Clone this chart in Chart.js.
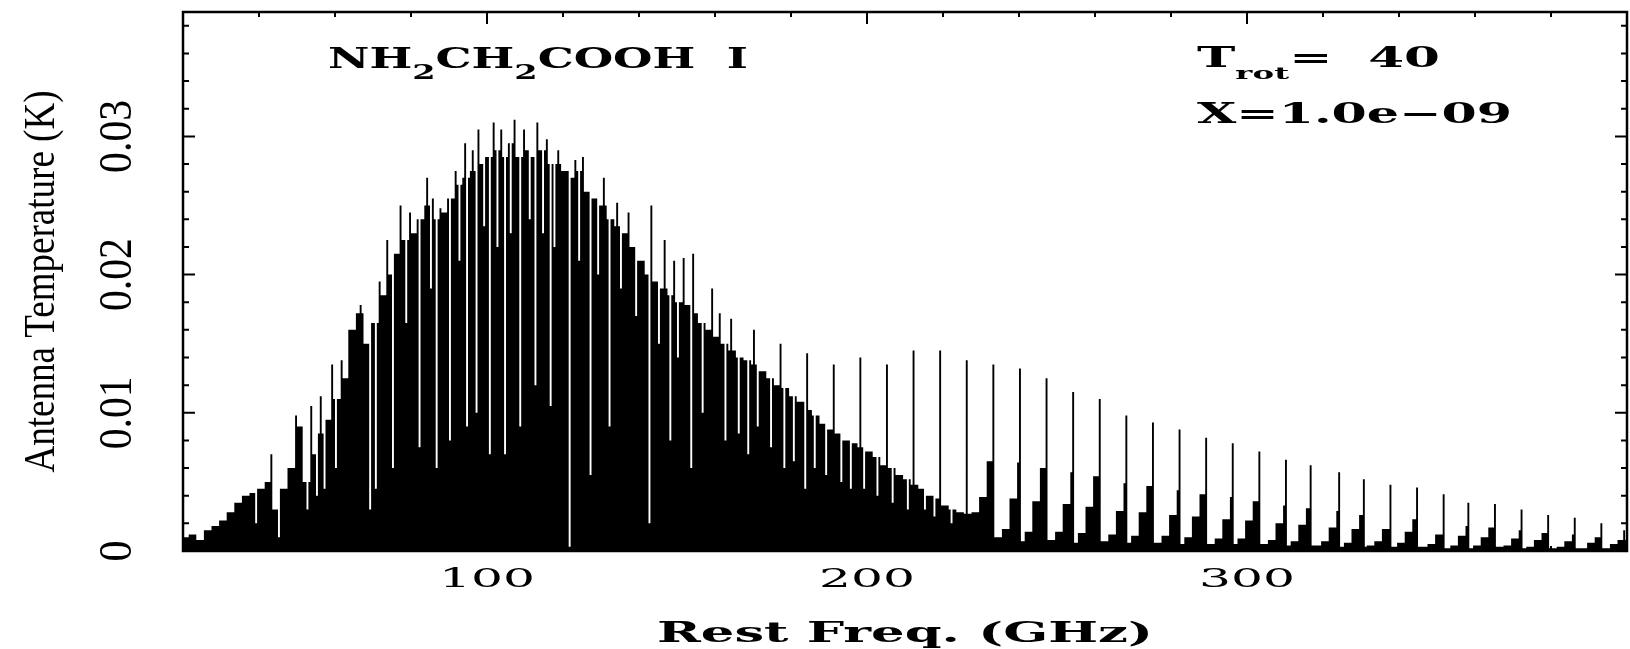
<!DOCTYPE html>
<html>
<head>
<meta charset="utf-8">
<script src="https://cdn.jsdelivr.net/npm/chart.js@4"></script>
<style>
  html, body { margin: 0; padding: 0; background: #fff; }
</style>
</head>
<body>
<canvas id="spec" width="1630" height="649"></canvas>
<script>
// spectrum envelope in 2 GHz bins, first bin starts at 20 GHz (antenna temperature in K)
const binStart = 20;
const binWidth = 2;
const envelopeK = [
  0.0010, 0.0012, 0.0008, 0.0015, 0.0018, 0.0022, 0.0028, 0.0035, 0.0040, 0.0042, // 20-38
  0.0045, 0.0050, 0.0030, 0.0045, 0.0060, 0.0090, 0.0050, 0.0070, 0.0085, 0.0095, // 40-58
  0.0110, 0.0125, 0.0160, 0.0172, 0.0150, 0.0165, 0.0185, 0.0200, 0.0215, 0.0225, // 60-78
  0.0230, 0.0240, 0.0250, 0.0240, 0.0245, 0.0255, 0.0265, 0.0270, 0.0275, 0.0280, // 80-98
  0.0285, 0.0290, 0.0285, 0.0295, 0.0285, 0.0290, 0.0285, 0.0290, 0.0280, 0.0280, // 100-118
  0.0275, 0.0270, 0.0275, 0.0260, 0.0255, 0.0250, 0.0240, 0.0235, 0.0230, 0.0220, // 120-138
  0.0210, 0.0200, 0.0195, 0.0190, 0.0185, 0.0180, 0.0178, 0.0172, 0.0165, 0.0160, // 140-158
  0.0155, 0.0150, 0.0145, 0.0140, 0.0138, 0.0135, 0.0130, 0.0125, 0.0120, 0.0118, // 160-178
  0.0112, 0.0108, 0.0102, 0.0098, 0.0092, 0.0088, 0.0085, 0.0080, 0.0078, 0.0075, // 180-198
  0.0072, 0.0068, 0.0062, 0.0060, 0.0055, 0.0052, 0.0048, 0.0045, 0.0040, 0.0038, // 200-218
  0.0033, 0.0030, 0.0028, 0.0027, 0.0028, 0.0039, 0.0065, 0.0010, 0.0016, 0.0038, // 220-238
  0.0064, 0.0014, 0.0036, 0.0060, 0.0008, 0.0014, 0.0034, 0.0057, 0.0013, 0.0032, // 240-258
  0.0054, 0.0007, 0.0012, 0.0029, 0.0049, 0.0011, 0.0028, 0.0047, 0.0006, 0.0011, // 260-278
  0.0026, 0.0044, 0.0010, 0.0025, 0.0041, 0.0005, 0.0009, 0.0023, 0.0039, 0.0009, // 280-298
  0.0022, 0.0036, 0.0005, 0.0008, 0.0020, 0.0033, 0.0007, 0.0019, 0.0031, 0.0004, // 300-318
  0.0007, 0.0017, 0.0029, 0.0006, 0.0016, 0.0026, 0.0004, 0.0007, 0.0016, 0.0024, // 320-338
  0.0006, 0.0014, 0.0023, 0.0003, 0.0005, 0.0012, 0.0021, 0.0004, 0.0011, 0.0018, // 340-358
  0.0004, 0.0010, 0.0017, 0.0003, 0.0004, 0.0009, 0.0015, 0.0003, 0.0008, 0.0013, // 360-378
  0.0002, 0.0003, 0.0007, 0.0012, 0.0002, 0.0006, 0.0010, 0.0002, 0.0005, 0.0008  // 380-398
];

// narrow line peaks standing above the envelope
const spikeGHz = [
  43.5, 49.8, 53.9, 56.7, 59.4, 62.1, 67.1, 72.0, 73.9, 77.7, 79.9,
  84.6, 86.2, 88.1, 92.2, 94.4, 96.3, 98.2, 101.8, 104.0, 107.3, 110.0,
  113.6, 116.0, 119.0, 123.7, 125.6, 131.1, 134.6, 137.4, 143.7, 147.0,
  149.7, 151.9, 154.6, 159.3, 161.5, 164.7, 170.5, 177.5, 184.5, 191.5,
  198.5, 205.5, 212.5, 219.5, 226.5, 233.5, 240.5, 247.5, 254.5, 261.5,
  268.5, 275.5, 282.5, 289.5, 296.5, 303.5, 310.5, 317.0, 324.5, 331.0,
  338.0, 345.0, 352.0, 358.5, 365.5, 372.5, 379.5, 386.5, 393.5, 399.3
];
const spikeK = [
  0.0070, 0.0098, 0.0105, 0.0112, 0.0135, 0.0138, 0.0178, 0.0195, 0.0225, 0.0250, 0.0245,
  0.0270, 0.0255, 0.0248, 0.0275, 0.0295, 0.0290, 0.0305, 0.0310, 0.0305, 0.0312, 0.0305,
  0.0310, 0.0298, 0.0290, 0.0283, 0.0285, 0.0270, 0.0252, 0.0245, 0.0250, 0.0225,
  0.0210, 0.0212, 0.0215, 0.0190, 0.0172, 0.0168, 0.0160, 0.0150, 0.0143, 0.0135,
  0.0140, 0.0135, 0.0145, 0.0145, 0.0138, 0.0135, 0.0132, 0.0125, 0.0115, 0.0110,
  0.0098, 0.0093, 0.0088, 0.0082, 0.0078, 0.0072, 0.0066, 0.0062, 0.0057, 0.0052,
  0.0048, 0.0046, 0.0041, 0.0035, 0.0034, 0.0030, 0.0026, 0.0024, 0.0020, 0.0015
];

// narrow low channels (white slits in the band, drops after the peaks in the tail)
const dipGHz = [
  39.7, 45.7, 53.1, 55.3, 57.5, 60.5, 69.5, 71.2, 75.3, 82.7, 87.2,
  90.3, 95.0, 97.5, 101.0, 105.1, 109.2, 113.0, 116.9, 121.8, 127.3,
  132.7, 143.1, 148.3, 153.8, 163.0, 168.8, 178.4, 183.9, 196.2, 203.0,
  211.0, 218.0,
  79.0, 85.5, 92.8, 99.5, 103.0, 106.5, 111.5, 115.0, 118.0, 124.5,
  129.5, 135.5, 139.5, 145.5, 150.5, 157.0, 166.5, 171.5, 175.0, 181.0,
  186.5, 189.5, 193.5, 199.5, 207.0, 215.5, 222.5,
  241.0, 241.5, 255.0, 255.5, 269.0, 269.5, 283.0, 283.5, 297.0, 297.5,
  311.0, 311.5, 317.5, 325.0, 325.5, 331.5, 338.5, 339.0, 339.5, 345.5,
  352.5, 353.0, 353.5, 359.0, 359.5, 373.0, 373.5, 387.0, 387.5
];
const dipK = [
  0.0020, 0.0010, 0.0030, 0.0040, 0.0045, 0.0060, 0.0030, 0.0045, 0.0060, 0.0075, 0.0060,
  0.0080, 0.0090, 0.0100, 0.0070, 0.0070, 0.0090, 0.0120, 0.0105, 0.0003, 0.0055,
  0.0090, 0.0020, 0.0080, 0.0060, 0.0080, 0.0070, 0.0060, 0.0045, 0.0045, 0.0040,
  0.0030, 0.0025,
  0.0165, 0.0190, 0.0210, 0.0235, 0.0220, 0.0230, 0.0240, 0.0230, 0.0220, 0.0210,
  0.0200, 0.0190, 0.0170, 0.0150, 0.0140, 0.0100, 0.0085, 0.0090, 0.0075, 0.0065,
  0.0060, 0.0055, 0.0050, 0.0045, 0.0035, 0.0030, 0.0020,
  0.0007, 0.0007, 0.0006, 0.0006, 0.0006, 0.0006, 0.0005, 0.0005, 0.0005, 0.0005,
  0.0004, 0.0004, 0.0004, 0.0003, 0.0003, 0.0003, 0.0003, 0.0003, 0.0003, 0.0003,
  0.0002, 0.0002, 0.0002, 0.0002, 0.0002, 0.0002, 0.0002, 0.0002, 0.0002
];

const xTickValues = [100, 200, 300];
const xTickLabels = ['100', '200', '300'];
const yTickValues = [0, 0.01, 0.02, 0.03];
const yTickLabels = ['0', '0.01', '0.02', '0.03'];

// half GHz channels: envelope first, then the slits and peaks on top
const chan = 0.5;
const points = [];
envelopeK.forEach((v, i) => {
  for (let j = 0; j < binWidth / chan; j++) {
    points.push({ x: binStart + i * binWidth + j * chan, y: v });
  }
});
function setChannel(f, v) {
  const idx = Math.round((f - binStart) / chan);
  if (points[idx]) points[idx].y = v;
}
dipGHz.forEach((f, i) => setChannel(f, dipK[i]));
spikeGHz.forEach((f, i) => setChannel(f, spikeK[i]));
points.push({ x: 400, y: envelopeK[envelopeK.length - 1] });

const serif = '"DejaVu Serif"';

// draws text stretched to a given width, segments can be subscripts
function drawWide(ctx, segs, x0, width, align, weight) {
  const w8 = weight ? weight + ' ' : '';
  let total = 0;
  segs.forEach(s => {
    ctx.font = w8 + s.size + 'px ' + serif;
    s.w = ctx.measureText(s.t).width;
    total += s.w;
  });
  const sx = width / total;
  let start = x0;
  if (align === 'center') start = x0 - width / 2;
  ctx.save();
  ctx.translate(start, 0);
  ctx.scale(sx, 1);
  ctx.textBaseline = 'alphabetic';
  ctx.textAlign = 'left';
  let cx = 0;
  segs.forEach(s => {
    ctx.font = w8 + s.size + 'px ' + serif;
    ctx.fillText(s.t, cx, s.y);
    cx += s.w;
  });
  ctx.restore();
}

// rotated text reading bottom to top, fitted to a length
function drawUp(ctx, text, cx, cy, font, length) {
  ctx.save();
  ctx.translate(cx, cy);
  ctx.rotate(-Math.PI / 2);
  ctx.font = font;
  ctx.textAlign = 'center';
  ctx.textBaseline = 'middle';
  const w = ctx.measureText(text).width;
  ctx.scale(length / w, 1);
  ctx.fillText(text, 0, 0);
  ctx.restore();
}

const axisTicks = {
  id: 'axisTicks',
  beforeDatasetsDraw(chart) {
    // bottom ticks sit under the spectrum
    const { ctx, chartArea: a, scales: { x } } = chart;
    ctx.save();
    ctx.strokeStyle = '#000';
    ctx.lineWidth = 2;
    ctx.beginPath();
    for (let v = 40; v < 400; v += 20) {
      const px = x.getPixelForValue(v);
      const len = v % 100 === 0 ? 12 : 5;
      ctx.moveTo(px, a.bottom);
      ctx.lineTo(px, a.bottom - len);
    }
    ctx.stroke();
    ctx.restore();
  },
  afterDraw(chart) {
    const { ctx, chartArea: a, scales: { x, y } } = chart;
    ctx.save();
    ctx.strokeStyle = '#000';
    ctx.lineWidth = 2;
    ctx.beginPath();
    for (let v = 40; v < 400; v += 20) {
      const px = x.getPixelForValue(v);
      const len = v % 100 === 0 ? 12 : 5;
      ctx.moveTo(px, a.top);
      ctx.lineTo(px, a.top + len);
    }
    for (let k = 1; k <= 19; k++) {
      const py = y.getPixelForValue(k * 0.002);
      const len = k % 5 === 0 ? 12 : 6;
      ctx.moveTo(a.left, py);
      ctx.lineTo(a.left + len, py);
      ctx.moveTo(a.right, py);
      ctx.lineTo(a.right - len, py);
    }
    ctx.stroke();

    ctx.lineWidth = 2.5;
    ctx.strokeRect(a.left, a.top, a.right - a.left, a.bottom - a.top);

    ctx.fillStyle = '#000';
    // x tick labels and title
    xTickValues.forEach((v, i) => {
      drawWide(ctx, [{ t: xTickLabels[i], size: 26, y: 587 }], x.getPixelForValue(v), 96, 'center');
    });
    drawWide(ctx, [{ t: 'Rest Freq. (GHz)', size: 27, y: 642 }], (a.left + a.right) / 2, 496, 'center', 'bold');

    // y tick labels and title
    yTickValues.forEach((v, i) => {
      const len = yTickLabels[i].length > 1 ? 73 : 21;
      drawUp(ctx, yTickLabels[i], 119, y.getPixelForValue(v), '46px "Liberation Serif"', len);
    });
    drawUp(ctx, 'Antenna Temperature (K)', 42, (a.top + a.bottom) / 2, '44px "Liberation Serif"', 382);

    // annotations
    drawWide(ctx, [
      { t: 'NH', size: 27, y: 68 }, { t: '2', size: 20, y: 79 },
      { t: 'CH', size: 27, y: 68 }, { t: '2', size: 20, y: 79 },
      { t: 'COOH  I', size: 27, y: 68 }
    ], 328, 420, 'left', 'bold');
    drawWide(ctx, [
      { t: 'T', size: 27, y: 67 }, { t: 'rot', size: 17, y: 79 },
      { t: '=  40', size: 27, y: 67 }
    ], 1197, 243, 'left', 'bold');
    drawWide(ctx, [{ t: 'X=1.0e\u221209', size: 27, y: 123 }], 1197, 315, 'left', 'bold');
    ctx.restore();
  }
};

new Chart(document.getElementById('spec'), {
  type: 'line',
  data: {
    datasets: [{
      data: points,
      stepped: 'after',
      fill: 'origin',
      backgroundColor: '#000',
      borderColor: 'rgba(0,0,0,0)',
      borderWidth: 0,
      pointRadius: 0
    }]
  },
  options: {
    responsive: false,
    animation: false,
    layout: { padding: { left: 183, right: 3, top: 12, bottom: 98 } },
    scales: {
      x: { type: 'linear', min: 20, max: 400, display: false },
      y: { min: 0, max: 0.039, display: false }
    },
    plugins: {
      legend: { display: false },
      tooltip: { enabled: false }
    }
  },
  plugins: [axisTicks]
});
</script>
</body>
</html>
